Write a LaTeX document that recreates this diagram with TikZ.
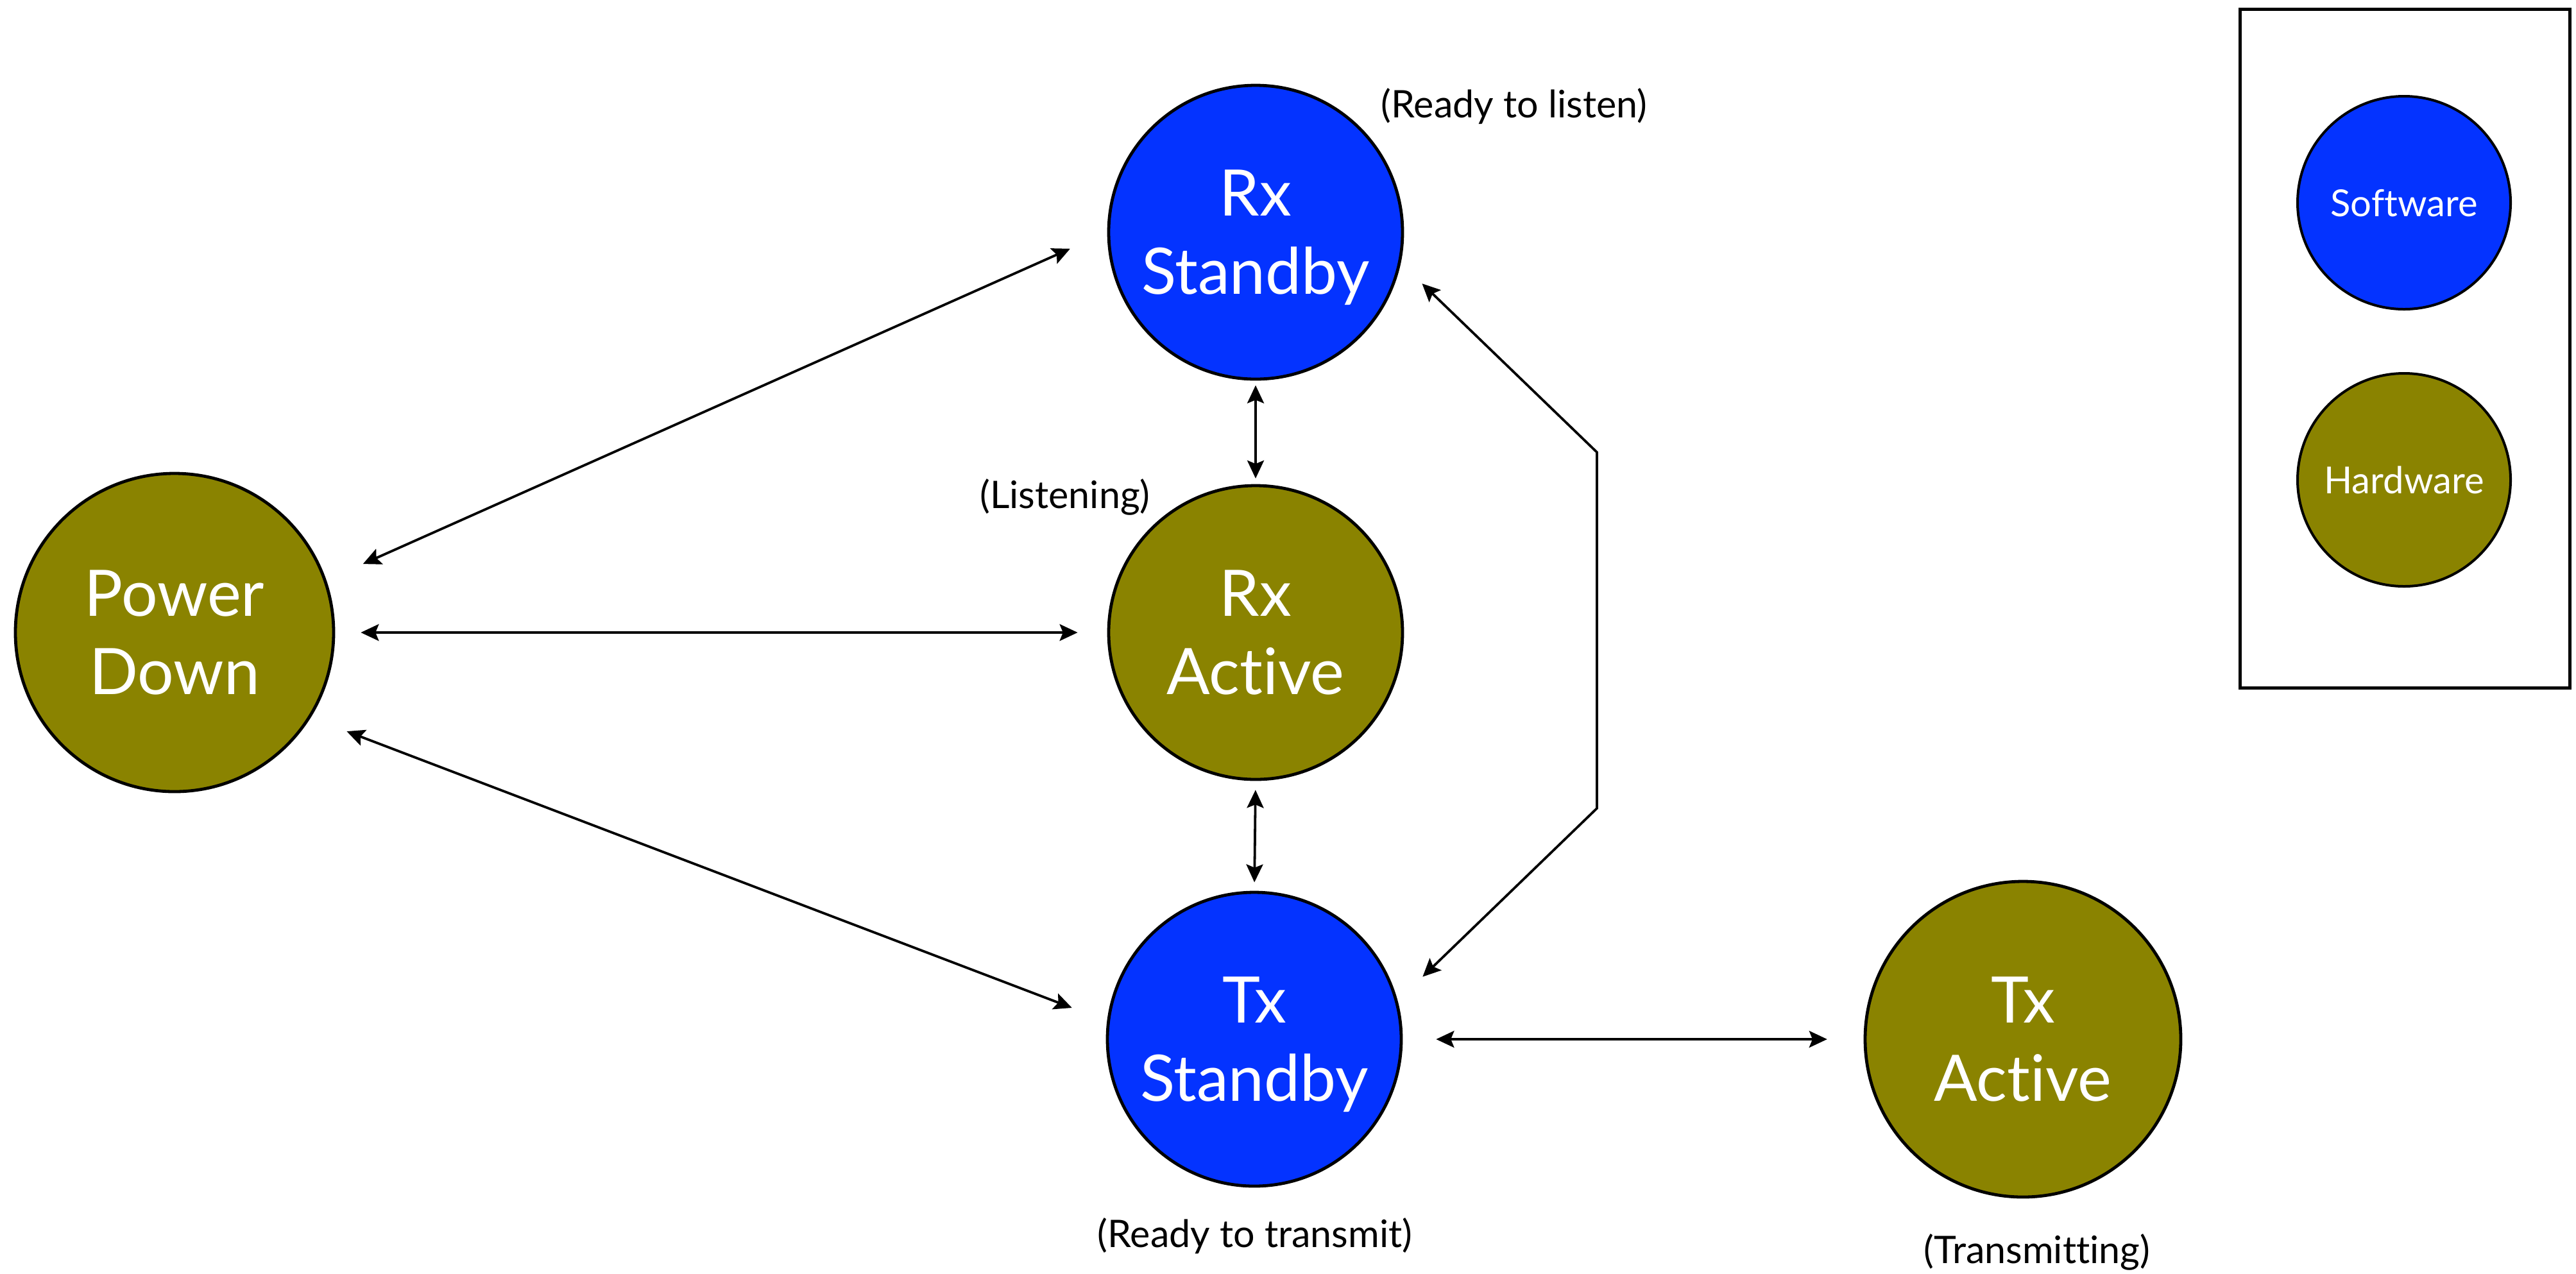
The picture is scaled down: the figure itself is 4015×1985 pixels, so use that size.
\documentclass[tikz,border=0pt]{standalone}
\usepackage{fontspec}
\setmainfont{Lato}[Ligatures={NoCommon,NoRequired,NoContextual}]
\usetikzlibrary{arrows.meta}
\definecolor{swblue}{RGB}{4,51,255}
\definecolor{hwolive}{RGB}{138,131,0}
\tikzset{
  state/.style={circle, draw=black, line width=1.2pt, text=white, align=center,
    inner sep=0pt, text depth=0pt, font=\fontsize{25}{30.5}\selectfont},
  swstate/.style={state, fill=swblue},
  hwstate/.style={state, fill=hwolive},
  legendstate/.style={line width=1pt, minimum size=83pt, font=\fontsize{14.5}{17}\selectfont},
  conn/.style={{Stealth[length=7pt,width=6.5pt,inset=1.3pt]}-{Stealth[length=7pt,width=6.5pt,inset=1.3pt]}, line width=0.95pt},
  note/.style={font=\fontsize{14.8}{17}\selectfont, anchor=base, inner sep=0pt},
}
\begin{document}
\begin{tikzpicture}[x=0.25pt, y=-0.25pt]
\useasboundingbox (0,0) rectangle (4015,1985);
% states
\node[hwstate, minimum size=124pt] (pd) at (272,986) {Power\\Down};
\node[swstate, minimum size=114.5pt] (rxs) at (1957,362) {Rx\\Standby};
\node[hwstate, minimum size=114.5pt] (rxa) at (1957,986) {Rx\\Active};
\node[swstate, minimum size=114.5pt] (txs) at (1955,1620) {Tx\\Standby};
\node[hwstate, minimum size=123pt] (txa) at (3153,1620) {Tx\\Active};
% notes
\node[note] (nrl) at (2360,183) {(Ready to listen)};
\node[note] (nli) at (1660,792) {(Listening)};
\node[note] (nrt) at (1956,1944) {(Ready to transmit)};
\node[note] (ntr) at (3175,1969) {(Transmitting)};
% legend
\node[draw=black, line width=1.1pt, minimum width=128.5pt, minimum height=264.5pt, inner sep=0pt] (legend) at (3748.5,543.5) {};
\node[swstate, legendstate] (lsw) at (3747,316) {Software};
\node[hwstate, legendstate] (lhw) at (3747,748) {Hardware};
% connectors
\coordinate (b1) at (2489,705);
\coordinate (b2) at (2489,1260);
\draw[conn, shorten <=15.6pt, shorten >=15.8pt] (pd.19) -- (rxs.west);
\draw[conn, shorten <=10pt, shorten >=11.5pt] (pd.east) -- (rxa.west);
\draw[conn, shorten <=15pt, shorten >=14.6pt] (pd.-32) -- (txs.173);
\draw[conn, shorten <=1.8pt, shorten >=2.2pt] (rxs.south) -- (rxa.north);
\draw[conn, shorten <=3.5pt, shorten >=3.3pt] (rxa.south) -- (txs.north);
\draw[conn, shorten <=11.5pt, shorten >=13.5pt] (rxs.-12) -- (b1) -- (b2) -- (txs.15);
\draw[conn, shorten <=13pt, shorten >=14.2pt] (txs.east) -- (txa.west);
\end{tikzpicture}
\end{document}
